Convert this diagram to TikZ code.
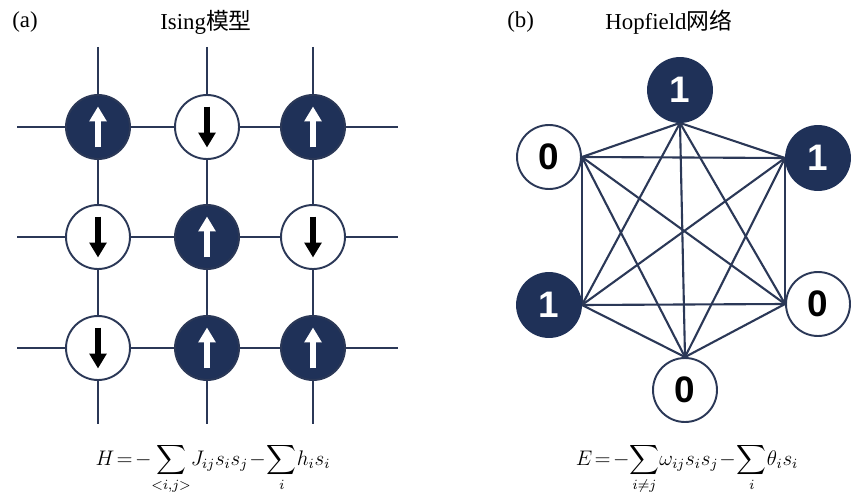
\documentclass[tikz,border=0pt]{standalone}
\usepackage{fontspec}
\setmainfont{Liberation Serif}
\newfontfamily\cjkfont{Noto Sans CJK SC}
\newfontfamily\numfont{Liberation Sans}
\usepackage{amsmath,amssymb}
\usetikzlibrary{arrows.meta,backgrounds}
\definecolor{spnavy}{HTML}{1F3158}
\definecolor{spline}{HTML}{2B3857}
\tikzset{
  spnode/.style ={circle, draw=spline, line width=1.1pt, minimum size=1.28cm,
                  inner sep=0pt},
  spup/.style   ={spnode, fill=spnavy,
                  path picture={\draw[white, line width=3.3pt,
                    -{Triangle[length=8.5pt,width=9.5pt]}]
                    ([yshift=-0.41cm]path picture bounding box.center) --
                    ([yshift=0.41cm]path picture bounding box.center);}},
  spdown/.style ={spnode, fill=white,
                  path picture={\draw[black, line width=3.3pt,
                    -{Triangle[length=8.5pt,width=9.5pt]}]
                    ([yshift=0.41cm]path picture bounding box.center) --
                    ([yshift=-0.41cm]path picture bounding box.center);}},
  hfone/.style  ={circle, fill=spnavy, draw=spnavy, line width=1.1pt,
                  minimum size=1.28cm, inner sep=0pt, text=white,
                  font=\numfont\bfseries\fontsize{21}{21}\selectfont},
  hfzero/.style ={hfone, fill=white, draw=spline, text=black},
  spedge/.style ={draw=spline, line width=1.2pt},
  sptitle/.style={font=\fontsize{13}{15}\selectfont, inner sep=0pt},
  spformula/.style={font=\fontsize{11.8}{14}\selectfont, inner sep=0pt},
}

\begin{document}
\begin{tikzpicture}[x=0.02cm, y=-0.02cm]
  \useasboundingbox (0,0) rectangle (865,500);

  % (a) Ising lattice
  \node[sptitle, anchor=west] (ta) at (12,22) {(a)};
  \node[sptitle, anchor=west] (tai) at (160,22) {Ising{\cjkfont 模型}};

  \node[spup]   (s11) at (98,127)  {};
  \node[spdown] (s12) at (207,127) {};
  \node[spup]   (s13) at (313,127) {};
  \node[spdown] (s21) at (98,237)  {};
  \node[spup]   (s22) at (207,237) {};
  \node[spdown] (s23) at (313,237) {};
  \node[spdown] (s31) at (98,348)  {};
  \node[spup]   (s32) at (207,348) {};
  \node[spup]   (s33) at (313,348) {};

  \foreach \r/\y in {1/127,2/237,3/348} {
    \coordinate (gl\r) at (17,\y);
    \coordinate (gr\r) at (398,\y);
  }
  \foreach \c/\x in {1/98,2/207,3/313} {
    \coordinate (gt\c) at (\x,47);
    \coordinate (gb\c) at (\x,424);
  }
  \begin{scope}[on background layer]
    \foreach \r in {1,2,3}
      \draw[spedge] (gl\r) -- (s\r1) -- (s\r2) -- (s\r3) -- (gr\r);
    \foreach \c in {1,2,3}
      \draw[spedge] (gt\c) -- (s1\c) -- (s2\c) -- (s3\c) -- (gb\c);
  \end{scope}

  \node[spformula, anchor=base] (fh) at (213,465)
    {$\displaystyle H\!=\!-\!\sum_{{<}i,j{>}}\!J_{ij}s_is_j\!-\!\sum_i\!h_is_i$};

  % (b) Hopfield network
  \node[sptitle, anchor=west] (tb) at (507,22) {(b)};
  \node[sptitle, anchor=west] (tbh) at (605,22) {Hopfield{\cjkfont 网络}};

  \node[hfone]  (ht)  at (680,90)  {1};
  \node[hfzero] (hlt) at (549,157) {0};
  \node[hfone]  (hrt) at (818,158) {1};
  \node[hfone]  (hlb) at (549,305) {1};
  \node[hfzero] (hrb) at (818,304) {0};
  \node[hfzero] (hb)  at (685,390) {0};

  \coordinate (pt)  at (ht.south);
  \coordinate (plt) at (hlt.east);
  \coordinate (prt) at (hrt.west);
  \coordinate (plb) at (hlb.east);
  \coordinate (prb) at (hrb.west);
  \coordinate (pb)  at (hb.north);
  \begin{scope}[on background layer]
    \foreach \a/\b in {pt/plt,pt/prt,pt/plb,pt/prb,pt/pb,
                       plt/prt,plt/plb,plt/prb,plt/pb,
                       prt/plb,prt/prb,prt/pb,
                       plb/prb,plb/pb,prb/pb}
      \draw[spedge] (\a) -- (\b);
  \end{scope}

  \node[spformula, anchor=base] (fe) at (687,465)
    {$\displaystyle E\!=\!-\!\sum_{i\neq j}\!\omega_{ij}s_is_j\!-\!\sum_i\!\theta_is_i$};
\end{tikzpicture}
\end{document}
